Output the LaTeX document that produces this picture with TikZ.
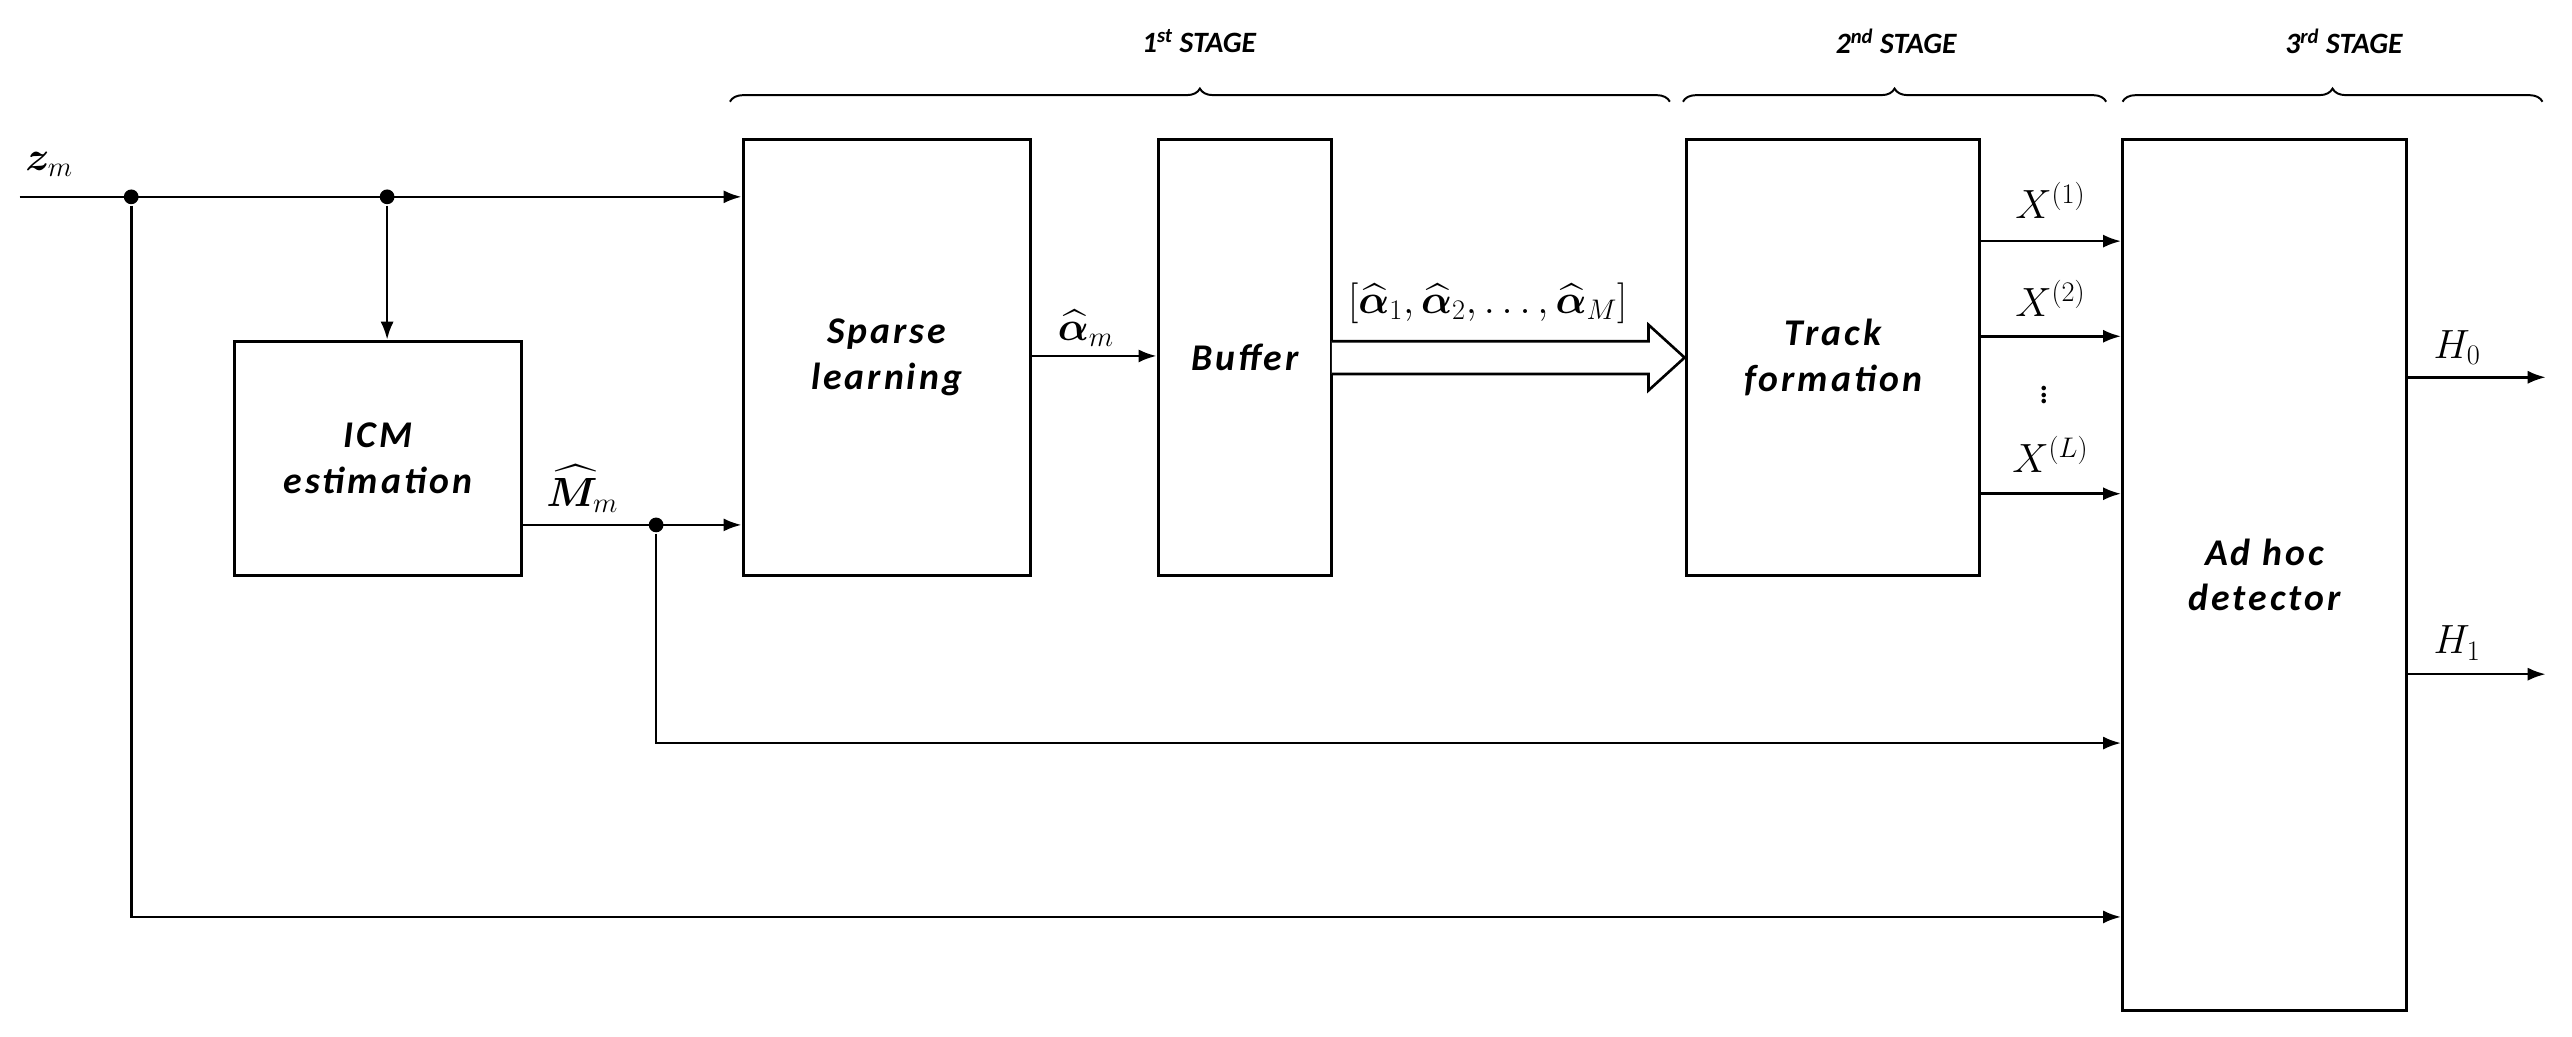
\documentclass[tikz,border=0pt]{standalone}
\usepackage{amsmath,bm}
\usepackage{fontspec}
\setmainfont{Carlito}
\newfontfamily\boxfont[LetterSpace=8]{Carlito}
\usetikzlibrary{arrows.meta,decorations.pathreplacing}
\begin{document}
\begin{tikzpicture}[x=1pt,y=-1pt,line width=1.6pt,
  blk/.style={draw,line width=1.8pt,font=\boxfont\fontsize{23}{28}\selectfont\bfseries\itshape,align=center,inner sep=0},
  arr/.style={-{Latex[length=11pt,width=8pt]}},
  dot/.style={circle,fill,inner sep=0,minimum size=9pt},
  lbl/.style={font=\fontsize{23}{26}\selectfont},
  stg/.style={font=\fontsize{18}{20}\selectfont\bfseries\itshape},
  brc/.style={decorate,decoration={brace,amplitude=8pt},line width=1.2pt}]
\useasboundingbox (0,0) rectangle (1568,632);
\node[blk,minimum width=175pt,minimum height=143pt] (icm) at (230.5,279.5) {ICM\\estimation};
\node[blk,minimum width=175pt,minimum height=266pt] (sl) at (540.5,218) {Sparse\\learning};
\node[blk,minimum width=106pt,minimum height=266pt] (buf) at (759,218) {Buffer};
\node[blk,minimum width=179pt,minimum height=266pt] (tf) at (1117.5,218) {Track\\formation};
\node[blk,minimum width=173pt,minimum height=531pt] (ad) at (1380.5,350.5) {Ad hoc\\detector};
\coordinate (zs) at (12,120);
\node[dot] (d1) at (80,120) {};
\node[dot] (d2) at (236,120) {};
\node[dot] (d3) at (400,320) {};
\node[lbl] (zl) at (30,100) {$\bm{z}_m$};
\draw[arr] (zs) -- (sl.west |- zs);
\draw[arr] (d2) -- (icm.north -| d2);
\draw[arr] (icm.east |- d3) -- (sl.west |- d3);
\node[lbl] (ml) at (355,298) {$\widehat{\bm{M}}_m$};
\draw[arr] (d3) -- (400,453) -- (ad.west |- 0,453);
\draw[arr] (d1) -- (80,559) -- (ad.west |- 0,559);
\draw[arr] (sl.east |- 0,217) -- (buf.west |- 0,217);
\node[lbl] (al) at (662,200) {$\widehat{\bm{\alpha}}_m$};
\draw[line width=1.6pt,fill=white] (812,208) -- (1005,208) -- (1005,198) -- (1027,218) -- (1005,238) -- (1005,228) -- (812,228);
\node[lbl] (vl) at (907,185) {$[\widehat{\bm{\alpha}}_1,\widehat{\bm{\alpha}}_2,\ldots,\widehat{\bm{\alpha}}_M]$};
\draw[arr] (tf.east |- 0,147) -- (ad.west |- 0,147);
\draw[arr] (tf.east |- 0,205) -- (ad.west |- 0,205);
\draw[arr] (tf.east |- 0,301) -- (ad.west |- 0,301);
\node[lbl] (x1) at (1250,122) {$X^{(1)}$};
\node[lbl] (x2) at (1250,182) {$X^{(2)}$};
\node[lbl] (xl) at (1250,277) {$X^{(L)}$};
\node[lbl] (vd) at (1246,238) {$\vdots$};
\coordinate (h0) at (1552,230);
\coordinate (h1) at (1552,411);
\draw[arr] (ad.east |- h0) -- (h0);
\draw[arr] (ad.east |- h1) -- (h1);
\node[lbl] (h0l) at (1498,212) {$H_0$};
\node[lbl] (h1l) at (1498,392) {$H_1$};
\draw[brc] (445,62) -- (1018,62);
\draw[brc] (1026,62) -- (1284,62);
\draw[brc] (1294,62) -- (1550,62);
\node[stg] (s1) at (731,25) {1\textsuperscript{st} STAGE};
\node[stg] (s2) at (1156,25) {2\textsuperscript{nd} STAGE};
\node[stg] (s3) at (1429,25) {3\textsuperscript{rd} STAGE};
\end{tikzpicture}
\end{document}
